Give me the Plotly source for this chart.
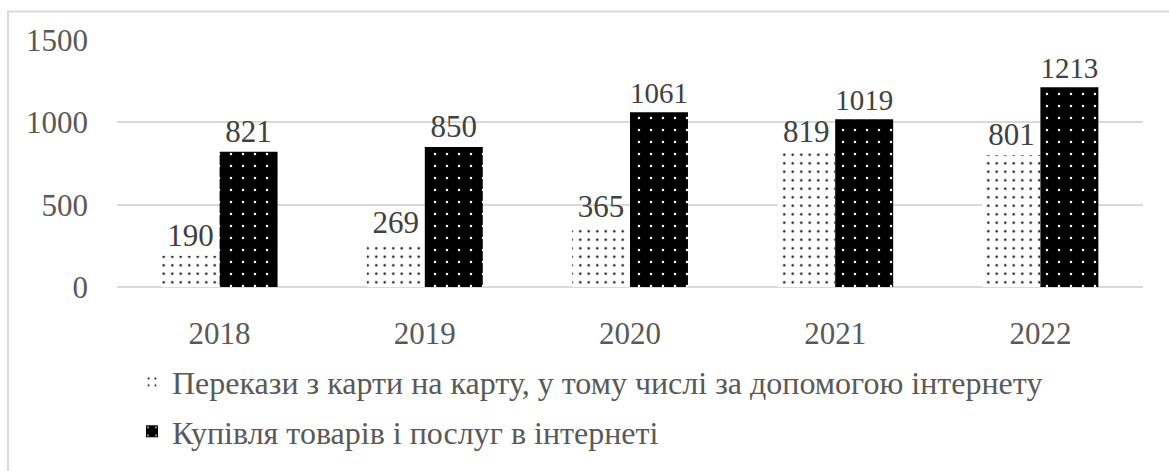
import plotly.graph_objects as go

years = ["2018", "2019", "2020", "2021", "2022"]
card_transfers = [190, 269, 365, 819, 801]
online_purchases = [821, 850, 1061, 1019, 1213]
series_names = [
    "Перекази з карти на карту, у тому числі за допомогою інтернету",
    "Купівля товарів і послуг в інтернеті",
]
y_ticks = [0, 500, 1000, 1500]

FONT = "Liberation Serif"
TEXT = "#595959"
GRID = "#d9d9d9"
FS = 31
FS_LEGEND = 32

fig = go.Figure()
fig.add_trace(go.Bar(
    x=years, y=card_transfers, name=series_names[0],
    text=card_transfers, textposition="outside",
    textfont=dict(family=FONT, size=FS, color="#404040"),
    marker=dict(color="white", line=dict(width=0),
                pattern=dict(shape=".", fgcolor="black", bgcolor="white",
                             size=8.5, solidity=0.06, fillmode="replace")),
    legend="legend", showlegend=True,
))
fig.add_trace(go.Bar(
    x=years, y=online_purchases, name=series_names[1],
    text=online_purchases, textposition="outside",
    textfont=dict(family=FONT, size=FS, color="#404040"),
    marker=dict(color="black", line=dict(width=0),
                pattern=dict(shape=".", fgcolor="white", bgcolor="black",
                             size=12, solidity=0.035, fillmode="replace")),
    legend="legend2", showlegend=True,
))

legend_style = dict(font=dict(family=FONT, size=FS_LEGEND, color=TEXT),
                    bgcolor="rgba(0,0,0,0)", itemsizing="constant",
                    itemwidth=30, xanchor="left", yanchor="middle",
                    x=15 / 1026)

fig.update_layout(
    width=1169, height=471,
    margin=dict(l=117, r=26, t=40, b=180),
    paper_bgcolor="white", plot_bgcolor="white",
    barmode="group", bargap=0.435, bargroupgap=0,
    showlegend=True,
    font=dict(family=FONT, size=FS, color=TEXT),
    legend=dict(**legend_style, y=-0.385),
    legend2=dict(**legend_style, y=-0.585),
    xaxis=dict(showgrid=False, showline=False, ticks="",
               ticklabelstandoff=25,
               tickfont=dict(family=FONT, size=FS, color=TEXT)),
    yaxis=dict(range=[0, 1500], tickvals=y_ticks, showgrid=True,
               gridcolor=GRID, gridwidth=2, zeroline=True, zerolinecolor=GRID,
               zerolinewidth=2, showline=False, ticks="",
               ticklabelstandoff=28,
               tickfont=dict(family=FONT, size=FS, color=TEXT)),
    shapes=[dict(type="rect", xref="paper", yref="paper",
                 x0=-109 / 1026, x1=1.2, y0=-1.0, y1=(291 - 11) / 251,
                 line=dict(color=GRID, width=2), fillcolor="rgba(0,0,0,0)",
                 layer="below")],
)

fig.write_html("out.html")
